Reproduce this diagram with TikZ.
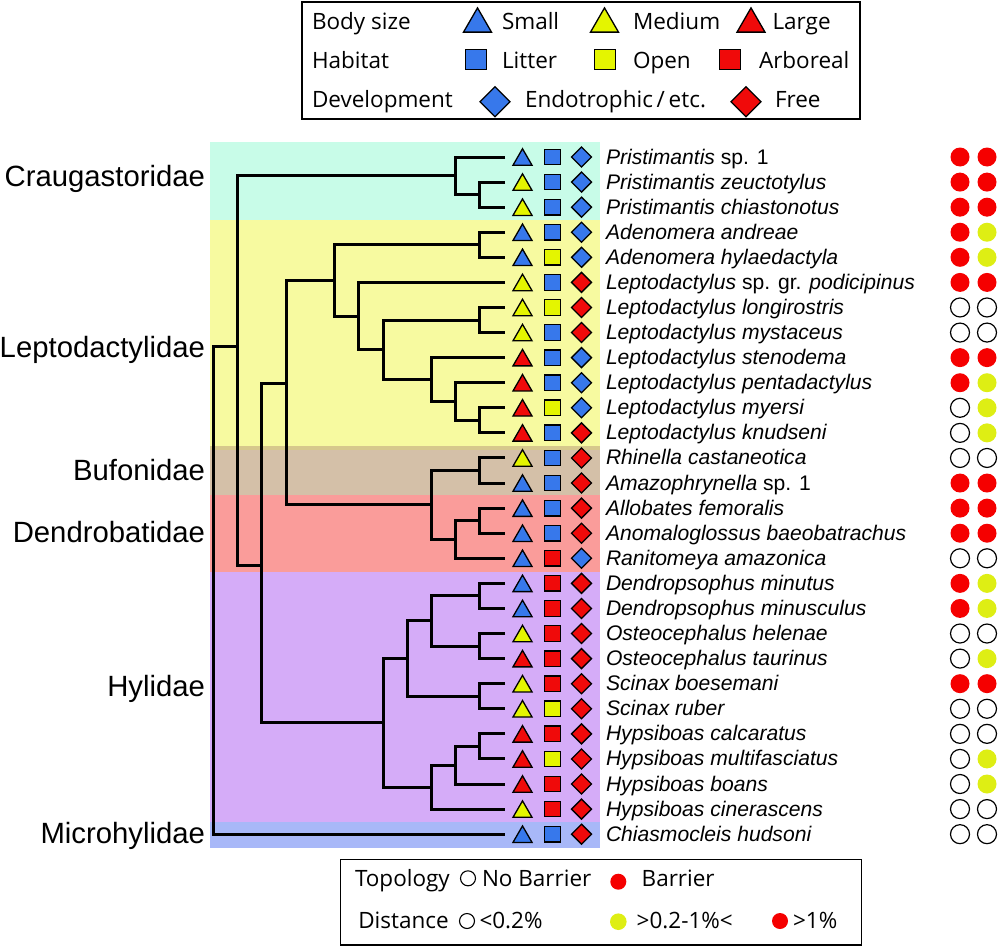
\documentclass[tikz,border=0pt]{standalone}
\usepackage{fontspec}
\setmainfont{Liberation Sans}
\newfontfamily\keyfont{Open Sans}
\usepackage{tikz}
\usetikzlibrary{calc}
\usetikzlibrary{shapes.geometric}

\definecolor{mkB}{RGB}{55,120,235}
\definecolor{mkY}{RGB}{228,245,0}
\definecolor{mkR}{RGB}{240,10,10}
\definecolor{dotred}{RGB}{245,0,0}
\definecolor{dotyellow}{RGB}{222,238,20}
\definecolor{bandcrau}{RGB}{200,252,232}
\definecolor{bandlept}{RGB}{247,250,160}
\definecolor{bandedge}{RGB}{214,200,140}
\definecolor{bandbufo}{RGB}{212,192,168}
\definecolor{banddend}{RGB}{250,156,154}
\definecolor{bandhyli}{RGB}{213,172,248}
\definecolor{bandmicr}{RGB}{168,184,248}

% clade: name, x, upper child, lower child
\newcommand{\clade}[4]{%
  \path let \p1=(#3), \p2=(#4) in coordinate (#1) at (#2pt,{0.5*(\y1+\y2)});
  \draw[branch] (#3) -| (#1) |- (#4);}

\begin{document}
\begin{tikzpicture}[x=1pt,y=-1pt]
	\tikzstyle{every node}=[inner sep=0pt, outer sep=0pt]
	\tikzstyle{branch}=[line width=3pt, black]
	\tikzstyle{sizemark}=[regular polygon, regular polygon sides=3, minimum size=22pt, draw=black, line width=1.3pt, yshift=-2.75pt]
	\tikzstyle{habmark}=[rectangle, minimum size=15.5pt, draw=black, line width=1.3pt]
	\tikzstyle{devmark}=[diamond, minimum width=20pt, minimum height=20pt, draw=black, line width=1.3pt]
	\tikzstyle{dotO}=[circle, minimum size=19pt, draw=black, line width=1.2pt, fill=white]
	\tikzstyle{dotY}=[circle, minimum size=19pt, fill=dotyellow]
	\tikzstyle{dotR}=[circle, minimum size=19pt, fill=dotred]
	\tikzstyle{famlabel}=[anchor=base east, font=\fontsize{29.3}{34}\selectfont]
	\tikzstyle{spname}=[anchor=base west, font=\fontsize{21.1}{25}\selectfont]
	\tikzstyle{keytext}=[anchor=base west, font=\keyfont\fontsize{22.5}{26}\selectfont]
	\useasboundingbox (0,0) rectangle (1000,947);
	
	% Family bands
	\fill[bandcrau] (210,142) rectangle (600,220);
	\fill[bandlept] (210,220) rectangle (600,448);
	\fill[bandbufo] (210,448) rectangle (600,495);
	\fill[bandedge] (210,446) rectangle (600,450);
	\fill[banddend] (210,495) rectangle (600,572);
	\fill[bandhyli] (210,572) rectangle (600,822);
	\fill[bandmicr] (210,822) rectangle (600,848);
	
	% Family labels
	\node[famlabel] (crau) at (205,186.5) {Craugastoridae};
	\node[famlabel] (lept) at (205,357.5) {Leptodactylidae};
	\node[famlabel] (bufo) at (205,480.5) {Bufonidae};
	\node[famlabel] (dend) at (205,542.5) {Dendrobatidae};
	\node[famlabel] (hyli) at (205,696.5) {Hylidae};
	\node[famlabel] (micr) at (205,843.5) {Microhylidae};
	
	% Species rows: name / size / habitat / development / topology / distance
	\foreach \sp/\bs/\hb/\dv/\tp/\ds [count=\i from 0] in {
		{\textit{Pristimantis} sp. 1}/B/B/B/R/R,
		{\textit{Pristimantis zeuctotylus}}/Y/B/B/R/R,
		{\textit{Pristimantis chiastonotus}}/Y/B/B/R/R,
		{\textit{Adenomera andreae}}/B/B/B/R/Y,
		{\textit{Adenomera hylaedactyla}}/B/Y/B/R/Y,
		{\textit{Leptodactylus} sp. gr. \textit{podicipinus}}/Y/B/R/R/R,
		{\textit{Leptodactylus longirostris}}/Y/Y/R/O/O,
		{\textit{Leptodactylus mystaceus}}/Y/B/R/O/O,
		{\textit{Leptodactylus stenodema}}/R/B/B/R/R,
		{\textit{Leptodactylus pentadactylus}}/R/B/B/R/Y,
		{\textit{Leptodactylus myersi}}/R/Y/B/O/Y,
		{\textit{Leptodactylus knudseni}}/R/B/R/O/Y,
		{\textit{Rhinella castaneotica}}/Y/B/R/O/O,
		{\textit{Amazophrynella} sp. 1}/B/B/R/R/R,
		{\textit{Allobates femoralis}}/B/B/R/R/R,
		{\textit{Anomaloglossus baeobatrachus}}/B/B/R/R/R,
		{\textit{Ranitomeya amazonica}}/B/R/B/O/O,
		{\textit{Dendropsophus minutus}}/B/R/R/R/Y,
		{\textit{Dendropsophus minusculus}}/B/R/R/R/Y,
		{\textit{Osteocephalus helenae}}/Y/R/R/O/O,
		{\textit{Osteocephalus taurinus}}/R/R/R/O/Y,
		{\textit{Scinax boesemani}}/Y/R/R/R/R,
		{\textit{Scinax ruber}}/Y/Y/R/O/O,
		{\textit{Hypsiboas calcaratus}}/R/R/R/O/O,
		{\textit{Hypsiboas multifasciatus}}/R/Y/R/O/Y,
		{\textit{Hypsiboas boans}}/R/R/R/O/Y,
		{\textit{Hypsiboas cinerascens}}/Y/R/R/O/O,
		{\textit{Chiasmocleis hudsoni}}/B/B/R/O/O} {
		\pgfmathsetmacro\ry{157+25.08*\i}
		\coordinate (t\i) at (505,\ry);
		\node[sizemark, fill=mk\bs] (bs\i) at (522.5,\ry) {};
		\node[habmark, fill=mk\hb] (hb\i) at (552.5,\ry) {};
		\node[devmark, fill=mk\dv] (dv\i) at (581.5,\ry) {};
		\node[spname] (sp\i) at (606,{\ry+7}) {\sp};
		\node[dot\tp] (tp\i) at (960,\ry) {};
		\node[dot\ds] (ds\i) at (987,\ry) {};
	}
	
	% Tree
	\clade{n1}{479}{t1}{t2}
	\clade{n2}{455}{t0}{n1}
	\clade{n3}{479}{t3}{t4}
	\clade{n4}{479}{t6}{t7}
	\clade{n5}{479}{t10}{t11}
	\clade{n6}{455}{t9}{n5}
	\clade{n7}{431}{t8}{n6}
	\clade{n8}{383}{n4}{n7}
	\clade{n9}{358}{t5}{n8}
	\clade{n10}{334}{n3}{n9}
	\clade{n11}{479}{t12}{t13}
	\clade{n12}{479}{t14}{t15}
	\clade{n13}{455}{n12}{t16}
	\clade{n14}{431}{n11}{n13}
	\clade{n16}{479}{t17}{t18}
	\clade{n17}{479}{t19}{t20}
	\clade{n18}{431}{n16}{n17}
	\clade{n19}{479}{t21}{t22}
	\clade{n20}{407}{n18}{n19}
	\clade{n21}{479}{t23}{t24}
	\clade{n22}{455}{n21}{t25}
	\clade{n23}{431}{n22}{t26}
	\clade{n24}{383}{n20}{n23}
	\coordinate (n15) at (286,383);
	\draw[branch] (n10) -| (n15) |- (n14);
	\coordinate (n25) at (261,565);
	\draw[branch] (n15) -| (n25) |- (n24);
	\coordinate (n26) at (237,346);
	\draw[branch] (n2) -| (n26) |- (n25);
	\coordinate (n27) at (213,590);
	\draw[branch] (n26) -| (n27) |- (t27);
	
	% Top legend
	\draw[line width=1.3pt] (302,2) rectangle (860,119);
	\node[keytext] (kbody) at (312,29.5) {Body size};
	\node[keytext] (khab) at (312,69) {Habitat};
	\node[keytext] (kdev) at (312,107) {Development};
	\node[sizemark, minimum size=32.3pt, yshift=-1.3pt, fill=mkB] (ks1) at (477.5,20) {};
	\node[keytext] (ks1t) at (502,29.5) {Small};
	\node[sizemark, minimum size=32.3pt, yshift=-1.3pt, fill=mkY] (ks2) at (604.5,20) {};
	\node[keytext] (ks2t) at (633,29.5) {Medium};
	\node[sizemark, minimum size=32.3pt, yshift=-1.3pt, fill=mkR] (ks3) at (751,20) {};
	\node[keytext] (ks3t) at (772.5,29.5) {Large};
	\node[habmark, minimum size=20.5pt, fill=mkB] (kh1) at (476,59.5) {};
	\node[keytext] (kh1t) at (502,69) {Litter};
	\node[habmark, minimum size=20.5pt, fill=mkY] (kh2) at (605,59.5) {};
	\node[keytext] (kh2t) at (633,69) {Open};
	\node[habmark, minimum size=20.5pt, fill=mkR] (kh3) at (730,59.5) {};
	\node[keytext] (kh3t) at (759,69) {Arboreal};
	\node[devmark, minimum width=30pt, minimum height=30pt, fill=mkB] (kd1) at (495,101.7) {};
	\node[keytext] (kd1t) at (525,107) {Endotrophic\,/\,etc.};
	\node[devmark, minimum width=30pt, minimum height=30pt, fill=mkR] (kd2) at (746,101.7) {};
	\node[keytext] (kd2t) at (775,107) {Free};
	
	% Bottom legend
	\draw[line width=1.3pt] (340.7,859.5) rectangle (861.5,945);
	\node[keytext] (ktop) at (355,886) {Topology};
	\node[dotO, minimum size=15pt, line width=1.1pt] (kt1) at (468,878.3) {};
	\node[keytext] (kt1t) at (482,886) {No Barrier};
	\node[dotR, minimum size=16pt] (kt2) at (618.3,881.7) {};
	\node[keytext] (kt2t) at (641.7,886) {Barrier};
	\node[keytext] (kdis) at (358.3,928.3) {Distance};
	\node[dotO, minimum size=15pt, line width=1.1pt] (kd1c) at (467,921) {};
	\node[keytext] (kdc1t) at (479.5,928.3) {<0.2\%};
	\node[dotY, minimum size=16.6pt] (kdc2) at (618.3,921.7) {};
	\node[keytext] (kdc2t) at (636.7,928.3) {>0.2-1\%<};
	\node[dotR, minimum size=16pt] (kdc3) at (780,921) {};
	\node[keytext] (kdc3t) at (793,928.3) {>1\%};
\end{tikzpicture}
\end{document}
